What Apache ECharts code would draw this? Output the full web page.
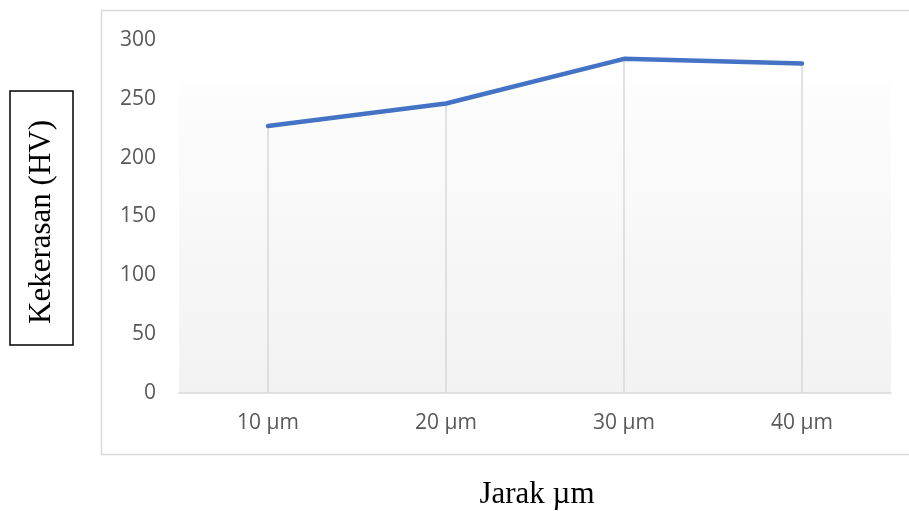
<!DOCTYPE html>
<html>
<head>
<meta charset="utf-8">
<script src="https://cdn.jsdelivr.net/npm/echarts@6/dist/echarts.min.js"></script>
<style>
    html, body {margin: 0; padding: 0; background: #fff;}
    #main {width: 909px; height: 511px;}
</style>
</head>
<body>
<div id="main"></div>
<script>
// data
var categories = ['10 µm', '20 µm', '30 µm', '40 µm'];
var hardness = [227, 246, 284, 280];
var yTicks = {min: 0, max: 300, interval: 50};

var myChart = echarts.init(document.getElementById('main'));

// drop lines from each point to the axis
var dropLines = [];
for (var i = 0; i < categories.length; i++) {
    dropLines.push([
        {coord: [categories[i], hardness[i]]},
        {coord: [categories[i], 0]}
    ]);
}

myChart.setOption({
    backgroundColor: '#fff',
    animation: false,
    grid: {
        left: 179,
        right: 18,
        top: 40,
        bottom: 118,
        show: true,
        borderWidth: 0,
        backgroundColor: new echarts.graphic.LinearGradient(0, 0, 0, 1, [
            {offset: 0, color: '#ffffff'},
            {offset: 0.127, color: '#ffffff'},
            {offset: 0.128, color: '#fdfdfd'},
            {offset: 1, color: '#f2f2f2'}
        ])
    },
    graphic: [
        { // outer chart border
            type: 'rect', z: -1,
            shape: {x: 101.5, y: 10.5, width: 820, height: 444},
            style: {fill: 'none', stroke: '#d9d9d9', lineWidth: 1.5}
        },
        { // y title box
            type: 'rect',
            shape: {x: 10, y: 91, width: 63, height: 254},
            style: {fill: '#fff', stroke: '#000', lineWidth: 1.5}
        },
        {
            type: 'text',
            x: 42, y: 222, rotation: Math.PI / 2,
            style: {
                text: 'Kekerasan (HV)',
                font: '31px "Liberation Serif", "Times New Roman", serif',
                fill: '#000', align: 'center', verticalAlign: 'middle'
            }
        },
        {
            type: 'text',
            x: 537, y: 495,
            style: {
                text: 'Jarak µm',
                font: '31px "Liberation Serif", "Times New Roman", serif',
                fill: '#000', align: 'center', verticalAlign: 'middle'
            }
        }
    ],
    xAxis: {
        type: 'category',
        data: categories,
        boundaryGap: true,
        axisLine: {lineStyle: {color: '#d9d9d9', width: 1.5}},
        axisTick: {show: false},
        axisLabel: {
            color: '#595959',
            fontSize: 21,
            fontFamily: '"Open Sans", sans-serif',
            margin: 20
        }
    },
    yAxis: {
        type: 'value',
        min: yTicks.min,
        max: yTicks.max,
        interval: yTicks.interval,
        axisLine: {show: false},
        axisTick: {show: false},
        splitLine: {show: false},
        axisLabel: {
            color: '#595959',
            fontSize: 21,
            fontFamily: '"Open Sans", sans-serif',
            margin: 23
        }
    },
    series: [
        {
            type: 'line',
            data: hardness,
            symbol: 'none',
            lineStyle: {color: '#4472c4', width: 4.5, cap: 'round', join: 'round'},
            z: 5,
            markLine: {
                silent: true,
                symbol: 'none',
                label: {show: false},
                lineStyle: {color: '#d9d9d9', width: 1.5, type: 'solid'},
                data: dropLines,
                z: 1
            }
        }
    ]
});
</script>
</body>
</html>
